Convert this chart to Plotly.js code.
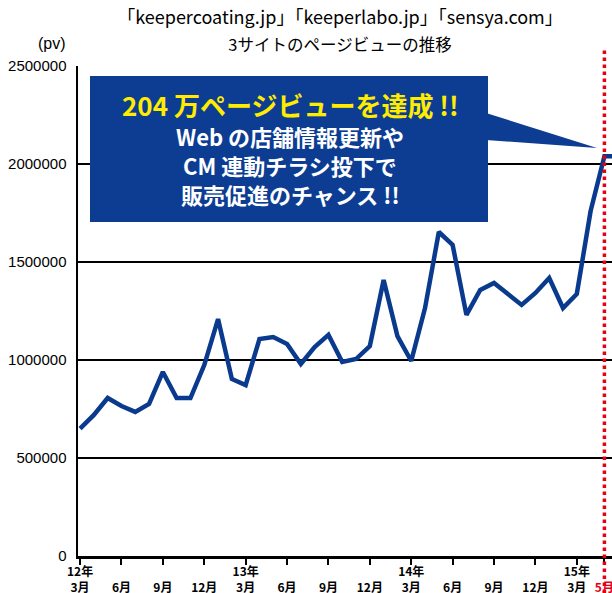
<!DOCTYPE html>
<html>
<head>
<meta charset="utf-8">
<script src="https://cdn.plot.ly/plotly-3.0.1.min.js"></script>
<style>html,body{margin:0;padding:0;background:#fff;}#chart{width:612px;height:593px;}</style>
</head>
<body>
<div id="chart"></div>
<script>
// Months (one point per month, 2012-03 .. 2015-06)
const months = [
  "12/03","12/04","12/05","12/06","12/07","12/08","12/09","12/10","12/11","12/12",
  "13/01","13/02","13/03","13/04","13/05","13/06","13/07","13/08","13/09","13/10","13/11","13/12",
  "14/01","14/02","14/03","14/04","14/05","14/06","14/07","14/08","14/09","14/10","14/11","14/12",
  "15/01","15/02","15/03","15/04","15/05","15/06"
];
// Page views (sum of three sites)
const pageViews = [
  650000, 720000, 806000, 765000, 735000, 776000, 939000, 806000, 806000, 974000,
  1209000, 903000, 872000, 1107000, 1117000, 1082000, 980000, 1066000, 1128000, 990000, 1005000, 1071000,
  1408000, 1122000, 995000, 1265000, 1653000, 1587000, 1230000, 1357000, 1393000, 1337000, 1281000, 1342000,
  1418000, 1265000, 1337000, 1760000, 2040000, 2040000
];
// Axis ticks
const tickMonths = ["12/03","12/06","12/09","12/12","13/03","13/06","13/09","13/12","14/03","14/06","14/09","14/12","15/03","15/05"];
const tickLabels = ["12年<br>3月","\u00a0<br>6月","\u00a0<br>9月","\u00a0<br>12月","13年<br>3月","\u00a0<br>6月","\u00a0<br>9月","\u00a0<br>12月",
  "14年<br>3月","\u00a0<br>6月","\u00a0<br>9月","\u00a0<br>12月","15年<br>3月","\u00a0<br><span style='color:#e60012'>5月</span>"];
const highlightMonth = "15/05";

const titleLine1 = "「keepercoating.jp」「keeperlabo.jp」「sensya.com」";
const titleLine2 = "3サイトのページビューの推移";
const calloutLines = ["204 万ページビューを達成 !!", "Web の店舗情報更新や", "CM 連動チラシ投下で", "販売促進のチャンス !!"];

// layout geometry (pixels)
const W = 612, H = 593, M = {l: 78, r: 0, t: 66, b: 37};
const PW = W - M.l - M.r, PH = H - M.t - M.b;
const px = x => (x - M.l) / PW;
const py = y => (M.t + PH - y) / PH;

const CJK = "Noto Sans CJK JP, Noto Sans, sans-serif";
const blue = "#0c3d92";

const trace = {
  type: "scatter", mode: "lines",
  x: months, y: pageViews,
  line: {color: "#0a3a8e", width: 4.5},
  hoverinfo: "x+y"
};

const calloutY = [104, 136, 165, 194];
const annotations = [
  {xref: "paper", yref: "paper", x: px(68), y: py(44), xanchor: "right", yanchor: "middle",
   text: "(pv)", showarrow: false, font: {family: "Liberation Sans, Arial", size: 16, color: "#000"}}
].concat(calloutLines.map((t, i) => ({
  xref: "paper", yref: "paper", x: px(290), y: py(calloutY[i]), xanchor: "center", yanchor: "middle",
  text: t, showarrow: false,
  font: {family: CJK, size: i === 0 ? 26 : 22, weight: "bold", color: i === 0 ? "#ffec00" : "#ffffff"}
})));

const shapes = [
  {type: "line", xref: "x", yref: "paper", x0: highlightMonth, x1: highlightMonth, y0: py(593), y1: py(48),
   line: {color: "#e60012", width: 3.5, dash: "dot"}, layer: "above"},
  {type: "path", xref: "paper", yref: "paper",
   path: `M ${px(486)},${py(113)} L ${px(597)},${py(148)} L ${px(486)},${py(140)} Z`,
   fillcolor: blue, line: {width: 0}, layer: "above"},
  {type: "rect", xref: "paper", yref: "paper", x0: px(90), x1: px(488), y0: py(222), y1: py(76),
   fillcolor: blue, line: {width: 0}, layer: "above"}
];

const layout = {
  width: W, height: H,
  margin: M,
  paper_bgcolor: "#fff", plot_bgcolor: "#fff",
  showlegend: false,
  title: {text: `<span style="font-size:18px">${titleLine1}</span><br><span style="font-size:16.5px">${titleLine2}</span>`,
          x: 340 / W, xanchor: "center", xref: "container",
          y: 1 - 24 / H, yanchor: "top", yref: "container",
          font: {family: CJK, size: 21, color: "#000"}},
  xaxis: {
    type: "category", categoryorder: "array", categoryarray: months,
    range: [-0.15, 38.55],
    tickmode: "array", tickvals: tickMonths, ticktext: tickLabels,
    ticks: "outside", ticklen: 6, tickwidth: 2, tickcolor: "#000",
    showline: true, linecolor: "#000", linewidth: 2.5,
    showgrid: false, zeroline: false, ticklabelstandoff: -3,
    tickfont: {family: CJK, size: 12, weight: "bold", color: "#000"},
    automargin: false
  },
  yaxis: {
    range: [0, 2500000], tickmode: "array",
    tickvals: [0, 500000, 1000000, 1500000, 2000000, 2500000],
    ticktext: ["0", "500000", "1000000", "1500000", "2000000", "2500000"],
    showgrid: true, gridcolor: "#000", gridwidth: 2.5,
    showline: true, linecolor: "#000", linewidth: 2.5,
    zeroline: false, ticks: "", ticklabelstandoff: 6,
    tickfont: {family: "Liberation Sans, Arial", size: 15, color: "#000"},
    automargin: false
  },
  annotations: annotations,
  shapes: shapes
};

Plotly.newPlot("chart", [trace], layout, {displayModeBar: false, staticPlot: true});
</script>
</body>
</html>
